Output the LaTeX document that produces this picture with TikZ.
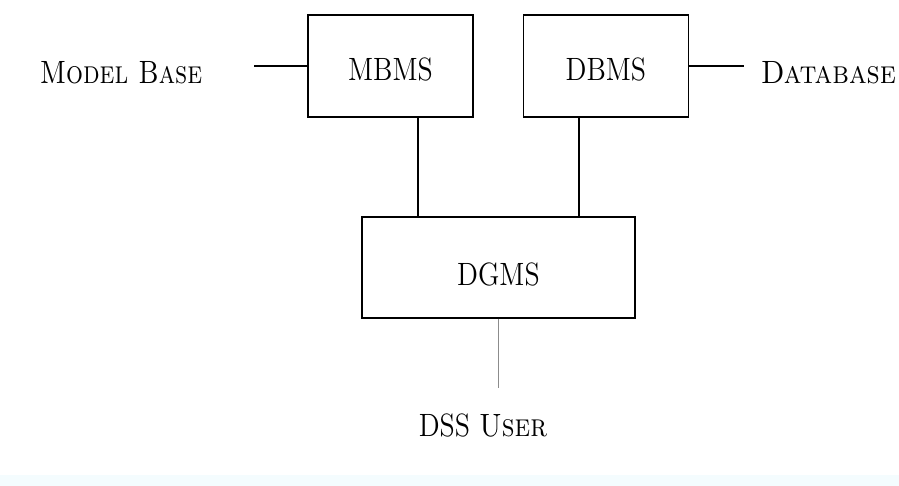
\documentclass[tikz,border=0pt]{standalone}
\definecolor{palecyan}{HTML}{F4FCFE}
\definecolor{linegrey}{HTML}{8C8C8C}
\usepackage{tikz}
\usetikzlibrary{positioning}
\newcommand{\stretched}[2][0.97]{\scalebox{#1}[1.12]{#2}}

\begin{document}
\begin{tikzpicture}[box/.style = {rectangle, draw, line width = 0.9pt, minimum width = 2.9cm, minimum height = 1.79cm, text height = 15pt, font = \Large},
	lbl/.style = {anchor = base, font = \Large}]
\useasboundingbox (0,0) rectangle (15.80,-8.54);
\fill[palecyan] (0,-8.347) rectangle (15.80,-8.54);

% 1
\node[box] (mbms) at (6.862,-1.160) {\stretched{MBMS}};
\node[box] (dbms) at (10.649,-1.160) {\stretched{DBMS}};
\node[box, minimum width = 4.8cm, minimum height = 1.77cm, text height = 18pt] (dgms) at (8.760,-4.701) {\stretched{DGMS}};

% 2
\node[lbl] (mbase) at (2.126,-1.459) {\stretched[0.925]{\textsc{Model Base}}};
\node[lbl] (dbase) at (14.559,-1.459) {\stretched[1]{\textsc{Database}}};
\node[lbl] (user) at (8.488,-7.679) {\stretched{DSS \textsc{User}}};

% 3
\draw[line width = 0.9pt] (mbms.west) -- ++(-0.931,0);
\draw[line width = 0.9pt] (dbms.east) -- ++(0.967,0);
\draw[line width = 0.9pt] ([xshift=-1.415cm]dgms.north) -- ([xshift=-1.415cm]dgms.north |- mbms.south);
\draw[line width = 0.9pt] ([xshift=1.415cm]dgms.north) -- ([xshift=1.415cm]dgms.north |- dbms.south);
\draw[linegrey, line width = 0.6pt] (dgms.south) -- ++(0,-1.213);
\end{tikzpicture}
\end{document}
